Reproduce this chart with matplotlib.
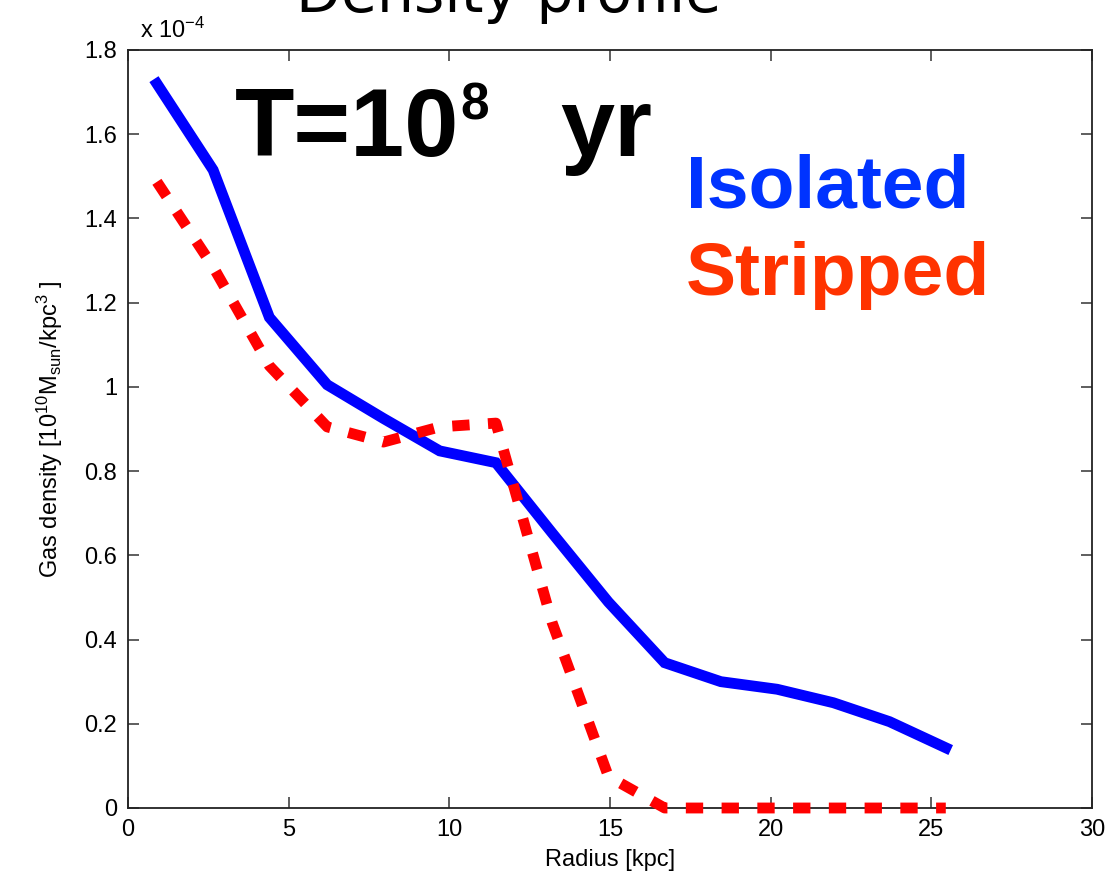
import matplotlib.pyplot as plt

# radial gas density profile, values in units of 1e-4 (10^10 Msun/kpc^3)
radius = [0.9, 2.65, 4.4, 6.2, 7.95, 9.7, 11.45, 13.2, 14.95, 16.7,
          18.45, 20.2, 21.95, 23.7, 25.45]
isolated = [1.72, 1.515, 1.165, 1.005, 0.925, 0.848, 0.82, 0.653, 0.489,
            0.345, 0.30, 0.282, 0.25, 0.205, 0.143]
stripped = [1.487, 1.285, 1.05, 0.905, 0.869, 0.905, 0.914, 0.44, 0.075,
            0.0, 0.0, 0.0, 0.0, 0.0, 0.0]

xticks = [0, 5, 10, 15, 20, 25, 30]
yticks = [0, 0.2, 0.4, 0.6, 0.8, 1.0, 1.2, 1.4, 1.6, 1.8]
ytick_labels = ['0', '0.2', '0.4', '0.6', '0.8', '1', '1.2', '1.4', '1.6', '1.8']

plt.rcParams['font.family'] = ['Liberation Sans', 'DejaVu Sans']
plt.rcParams['mathtext.fontset'] = 'custom'
plt.rcParams['mathtext.rm'] = 'Liberation Sans'
plt.rcParams['mathtext.it'] = 'Liberation Sans'

fig = plt.figure(figsize=(11.09, 8.89), dpi=100)
ax = fig.add_axes([128/1109, 81/889, 964/1109, 758/889])

ax.plot(radius, isolated, color=(0, 0, 1), lw=7.8, solid_joinstyle='miter',
        clip_on=False, zorder=3)
ax.plot(radius, stripped, color=(1, 0, 0), lw=7.8, linestyle=(0, (1.6, 1.7)),
        dash_capstyle='butt', clip_on=False, zorder=4)

ax.set_xlim(0, 30)
ax.set_ylim(0, 1.8)
ax.set_xticks(xticks)
ax.set_yticks(yticks)
ax.set_yticklabels(ytick_labels)
ax.tick_params(direction='in', length=8, width=1.1, top=True, right=True,
               labelsize=17, pad=8, color='#333333')
for s in ax.spines.values():
    s.set_linewidth(1.3)
    s.set_color('#222222')

ax.set_xlabel('Radius [kpc]', fontsize=17, labelpad=6)
ax.set_ylabel(r'Gas density [10$^{10}$M$_{\rm sun}$/kpc$^3$ ]', fontsize=17,
              labelpad=14)

# exponent marker above the y axis
fig.text(140/1109, 1 - 38/889, r'x 10$^{-4}$', fontsize=17, ha='left',
         va='baseline')

# title, partly cut by the top edge
fig.text(509/1109, 1 - 12/889, 'Density profile', fontsize=42, ha='center',
         va='baseline', family='DejaVu Sans')

# time stamp: base, raised exponent, unit
fig.text(235/1109, 1 - 156/889, 'T=10', fontsize=70, fontweight='bold',
         ha='left', va='baseline')
fig.text(460/1109, 1 - 120/889, '8', fontsize=37, fontweight='bold',
         ha='left', va='baseline')
fig.text(560/1109, 1 - 156/889, 'yr', fontsize=70, fontweight='bold',
         ha='left', va='baseline')

fig.text(686/1109, 1 - 207/889, 'Isolated', fontsize=54, fontweight='bold',
         color='#0033ff', ha='left', va='baseline')
fig.text(686/1109, 1 - 295/889, 'Stripped', fontsize=54, fontweight='bold',
         color='#ff3300', ha='left', va='baseline')

fig.savefig('out.png', dpi=100)
